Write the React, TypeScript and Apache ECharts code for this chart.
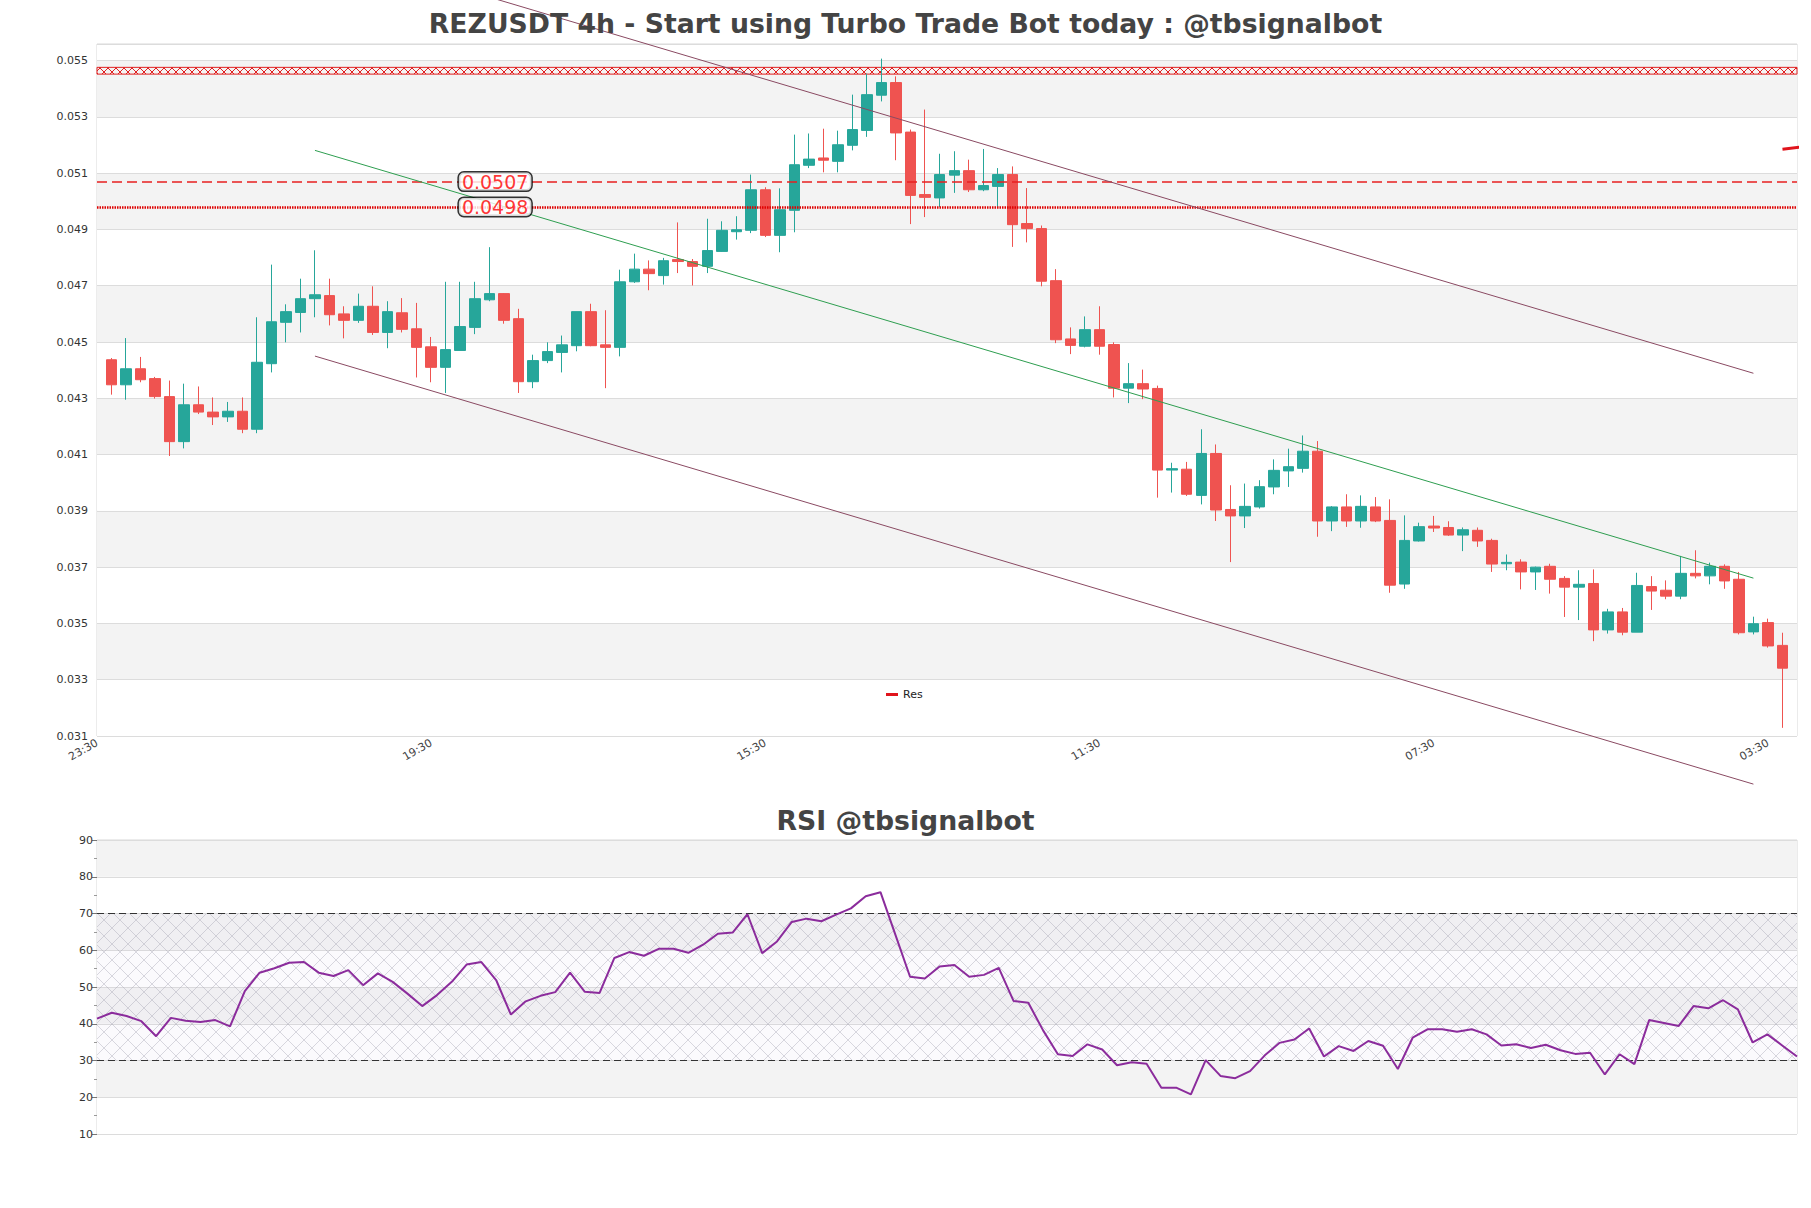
import React, { useEffect, useRef } from "react";
import * as echarts from "echarts";

const titleMain = "REZUSDT 4h - Start using Turbo Trade Bot today : @tbsignalbot";
const titleRsi = "RSI @tbsignalbot";
const tickLabels = ["23:30", "19:30", "15:30", "11:30", "07:30", "03:30"];
const tickEvery = 23;

const opens = [
  0.04437, 0.04348, 0.04405, 0.0437, 0.04306, 0.04146, 0.04277, 0.04251, 0.04234, 0.04254,
  0.0419, 0.04423, 0.0457, 0.04605, 0.04654, 0.04665, 0.046, 0.04577, 0.04627, 0.04534,
  0.04604, 0.04547, 0.04483, 0.0441, 0.0447, 0.04552, 0.0465, 0.04672, 0.04583, 0.04359,
  0.04434, 0.04463, 0.04487, 0.04608, 0.0449, 0.04481, 0.04714, 0.04759, 0.04736, 0.04793,
  0.04786, 0.04769, 0.04822, 0.04892, 0.04897, 0.05041, 0.04879, 0.04968, 0.05128, 0.05154,
  0.05142, 0.05199, 0.05252, 0.05377, 0.05422, 0.05246, 0.05024, 0.05012, 0.05093, 0.05109,
  0.05041, 0.05053, 0.05095, 0.04921, 0.04903, 0.04718, 0.04511, 0.04485, 0.04544, 0.04491,
  0.04336, 0.04352, 0.04335, 0.04045, 0.04048, 0.03955, 0.04104, 0.03905, 0.03882, 0.03914,
  0.03985, 0.04042, 0.04051, 0.04112, 0.03864, 0.03914, 0.03864, 0.03914, 0.03866, 0.0364,
  0.03793, 0.03846, 0.03841, 0.03814, 0.03831, 0.03795, 0.03712, 0.03718, 0.03683, 0.03703,
  0.0366, 0.03629, 0.03642, 0.03477, 0.03541, 0.03469, 0.03631, 0.03618, 0.03597, 0.03678,
  0.03669, 0.03703, 0.03657, 0.0347, 0.03503, 0.03422,
];
const closes = [
  0.04348, 0.04405, 0.04366, 0.04306, 0.04146, 0.04277, 0.04251, 0.04234, 0.04254, 0.0419,
  0.04428, 0.04572, 0.04608, 0.04654, 0.04668, 0.04597, 0.04577, 0.04627, 0.04534, 0.04608,
  0.04545, 0.04481, 0.0441, 0.04473, 0.04555, 0.04654, 0.04672, 0.04577, 0.04359, 0.04434,
  0.04466, 0.0449, 0.04608, 0.04487, 0.04481, 0.04714, 0.04759, 0.04743, 0.04789, 0.04786,
  0.04769, 0.04825, 0.04897, 0.04899, 0.05041, 0.04879, 0.0497, 0.0513, 0.0515, 0.05146,
  0.05201, 0.05255, 0.05379, 0.05422, 0.05243, 0.05021, 0.05014, 0.05095, 0.05109, 0.05041,
  0.05056, 0.05095, 0.04917, 0.04903, 0.04716, 0.04508, 0.04488, 0.04544, 0.04485, 0.04336,
  0.04352, 0.04333, 0.04045, 0.0405, 0.03959, 0.04104, 0.03903, 0.03882, 0.03916, 0.03986,
  0.04044, 0.04057, 0.04112, 0.03864, 0.03914, 0.03864, 0.03916, 0.03864, 0.03636, 0.03795,
  0.03844, 0.03839, 0.03814, 0.03833, 0.03793, 0.03711, 0.03717, 0.03683, 0.037, 0.03657,
  0.03629, 0.03639, 0.03477, 0.03541, 0.03469, 0.03635, 0.03615, 0.03597, 0.03678, 0.03669,
  0.03703, 0.03651, 0.03467, 0.03499, 0.0342, 0.03341,
];
const highs = [
  0.04443, 0.04514, 0.04447, 0.04376, 0.04363, 0.04352, 0.04342, 0.04303, 0.04287, 0.04303,
  0.04588, 0.04775, 0.04634, 0.04725, 0.04826, 0.04725, 0.04627, 0.04672, 0.04698, 0.04645,
  0.04656, 0.04639, 0.04518, 0.04714, 0.04714, 0.04714, 0.04837, 0.04674, 0.04618, 0.04455,
  0.04499, 0.04523, 0.04608, 0.04636, 0.04613, 0.04757, 0.04814, 0.0479, 0.04799, 0.04925,
  0.04795, 0.04938, 0.04929, 0.04947, 0.05095, 0.0505, 0.05046, 0.05237, 0.05241, 0.05258,
  0.05251, 0.05379, 0.05454, 0.05507, 0.05444, 0.05255, 0.05326, 0.05169, 0.05178, 0.05148,
  0.05186, 0.05118, 0.05124, 0.05047, 0.04914, 0.04759, 0.04552, 0.04591, 0.04627, 0.04499,
  0.04425, 0.04402, 0.04345, 0.04071, 0.04074, 0.0419, 0.04136, 0.03991, 0.03997, 0.04009,
  0.04083, 0.04121, 0.04168, 0.04148, 0.03917, 0.03959, 0.03955, 0.03949, 0.03941, 0.03884,
  0.03858, 0.03882, 0.03863, 0.03841, 0.03841, 0.03801, 0.03745, 0.03728, 0.03702, 0.03712,
  0.03668, 0.03689, 0.03692, 0.03552, 0.03555, 0.0368, 0.03668, 0.03653, 0.0374, 0.0376,
  0.03716, 0.0371, 0.03683, 0.03524, 0.03517, 0.03467,
];
const lows = [
  0.04313, 0.04295, 0.04357, 0.04299, 0.04095, 0.04122, 0.04244, 0.04205, 0.04216, 0.04176,
  0.04176, 0.04392, 0.04499, 0.04534, 0.04588, 0.04559, 0.04513, 0.04568, 0.04525, 0.04478,
  0.04534, 0.04374, 0.04357, 0.04319, 0.0447, 0.04528, 0.04645, 0.04565, 0.04319, 0.04336,
  0.04425, 0.04392, 0.04467, 0.04485, 0.04336, 0.04449, 0.0471, 0.04684, 0.04704, 0.04745,
  0.04701, 0.04745, 0.04864, 0.04864, 0.04887, 0.04873, 0.04819, 0.0489, 0.05118, 0.05103,
  0.05103, 0.05181, 0.05229, 0.05355, 0.05146, 0.04919, 0.04944, 0.0498, 0.0503, 0.05033,
  0.05036, 0.0498, 0.04838, 0.04854, 0.04698, 0.04496, 0.04457, 0.04481, 0.04455, 0.04303,
  0.04283, 0.04297, 0.03947, 0.03965, 0.03953, 0.03923, 0.03864, 0.03718, 0.03839, 0.03908,
  0.03959, 0.03985, 0.04036, 0.03808, 0.03828, 0.03843, 0.0384, 0.0386, 0.03609, 0.03623,
  0.03791, 0.03825, 0.03811, 0.03757, 0.03772, 0.03683, 0.03689, 0.03621, 0.03619, 0.03606,
  0.03523, 0.03512, 0.03437, 0.03464, 0.03458, 0.03469, 0.03548, 0.03586, 0.03586, 0.0366,
  0.03639, 0.03623, 0.03461, 0.03461, 0.03414, 0.03129,
];

const rsiValues = [
  41.4, 43.0, 42.1, 40.7, 36.6, 41.6, 40.8, 40.5, 41.0, 39.3,
  48.9, 53.9, 55.1, 56.6, 56.8, 53.9, 53.0, 54.6, 50.5, 53.7,
  51.4, 48.2, 44.8, 47.8, 51.4, 56.1, 56.8, 51.9, 42.5, 46.1,
  47.6, 48.6, 53.9, 48.7, 48.4, 57.9, 59.5, 58.5, 60.4, 60.4,
  59.3, 61.5, 64.5, 64.8, 69.8, 59.2, 62.4, 67.7, 68.6, 67.9,
  69.7, 71.4, 74.7, 75.8, 64.3, 52.8, 52.3, 55.6, 56.0, 52.8,
  53.3, 55.2, 46.2, 45.7, 38.2, 31.7, 31.2, 34.4, 33.0, 28.7,
  29.5, 29.1, 22.6, 22.6, 20.8, 30.1, 25.8, 25.2, 27.1, 31.4,
  34.8, 35.7, 38.7, 31.1, 33.9, 32.6, 35.3, 34.0, 27.7, 36.2,
  38.5, 38.5, 37.8, 38.5, 37.1, 34.1, 34.4, 33.4, 34.3, 32.8,
  31.8, 32.1, 26.2, 31.7, 29.0, 41.0, 40.2, 39.4, 44.8, 44.2,
  46.4, 43.9, 34.9, 37.1, 34.1, 31.1,
];

const channelUpper = [[14, 0.0591], [113, 0.04389]];
const channelLower = [[14, 0.0445], [113, 0.02929]];
const trendGreen = [[14, 0.05181], [113, 0.03661]];
const resSegment = [[115, 0.05185], [116.8, 0.05196]];
const levelDashed = 0.0507;
const levelDotted = 0.0498;
const levelLabelAt = 26.4;
const zoneLow = 0.05452;
const zoneHigh = 0.05476;
const rsiHigh = 70;
const rsiLow = 30;

const FONT = "DejaVu Sans";

function hatch(stroke: string, size: number, lw: number, bg?: string) {
  const c = document.createElement("canvas");
  c.width = size;
  c.height = size;
  const ctx = c.getContext("2d")!;
  if (bg) {
    ctx.fillStyle = bg;
    ctx.fillRect(0, 0, size, size);
  }
  ctx.strokeStyle = stroke;
  ctx.lineWidth = lw;
  ctx.beginPath();
  ctx.moveTo(0, 0);
  ctx.lineTo(size, size);
  ctx.moveTo(size, 0);
  ctx.lineTo(0, size);
  ctx.stroke();
  return { image: c, repeat: "repeat", imageWidth: size, imageHeight: size } as any;
}

export default function App() {
  const ref = useRef<HTMLDivElement>(null);
  useEffect(() => {
    if (!ref.current) return;
    const chart = echarts.init(ref.current, undefined, { renderer: "svg" });
    const candles = opens.map((o, i) => [i, o, closes[i], lows[i], highs[i]]);
    const rsiData = rsiValues.map((v, i) => [i, v]);
    const grey = "#f3f3f3";
    const titleStyle = { fontSize: 26.7, fontWeight: "bold" as const, color: "#444", fontFamily: FONT };

    chart.setOption({
      animation: false,
      backgroundColor: "#fff",
      textStyle: { fontFamily: FONT },
      title: [
        { text: titleMain, left: "center", top: 5, textStyle: titleStyle },
        { text: titleRsi, left: "center", top: 802, textStyle: titleStyle },
      ],
      legend: {
        data: ["Res"],
        left: 881,
        top: 684,
        icon: "rect",
        itemWidth: 12,
        itemHeight: 3,
        textStyle: { fontSize: 11, color: "#222", fontFamily: FONT },
      },
      grid: [
        { left: 97, top: 44, width: 1700, height: 692, show: true, borderColor: "#d8d8d8", borderWidth: 1, backgroundColor: "#fff" },
        { left: 97, top: 840, width: 1700, height: 294, show: true, borderColor: "#d8d8d8", borderWidth: 1, backgroundColor: "#fff" },
      ],
      xAxis: [
        {
          gridIndex: 0,
          type: "value",
          min: -1,
          max: 116,
          interval: tickEvery,
          axisLine: { show: false },
          axisTick: { show: false },
          splitLine: { show: false },
          axisLabel: {
            rotate: 30,
            fontSize: 11,
            color: "#444",
            margin: 6,
            formatter: (v: number) => {
              const k = Math.round((v + 1) / tickEvery);
              return Math.abs(v - (k * tickEvery - 1)) < 1e-6 && k >= 0 && k < tickLabels.length ? tickLabels[k] : "";
            },
          },
        },
        {
          gridIndex: 1,
          type: "value",
          min: 0,
          max: rsiValues.length - 1,
          axisLine: { show: false },
          axisTick: { show: false },
          splitLine: { show: false },
          axisLabel: { show: false },
        },
      ],
      yAxis: [
        {
          gridIndex: 0,
          type: "value",
          min: 0.031,
          max: 0.05559,
          interval: 0.002,
          axisLine: { show: false },
          axisTick: { show: false },
          axisLabel: {
            fontSize: 11,
            color: "#333",
            margin: 9,
            showMaxLabel: false,
            formatter: (v: number) => v.toFixed(3),
          },
          splitLine: { lineStyle: { color: "#dcdcdc", width: 1 } },
          splitArea: { show: true, areaStyle: { color: ["#ffffff", grey] } },
        },
        {
          gridIndex: 1,
          type: "value",
          min: 10,
          max: 90,
          interval: 10,
          axisLine: { show: false },
          axisTick: { show: true, length: 5, lineStyle: { color: "#777" } },
          minorTick: { show: true, splitNumber: 2, length: 3, lineStyle: { color: "#999" } },
          axisLabel: { fontSize: 11, color: "#333", margin: 4 },
          splitLine: { lineStyle: { color: "#dcdcdc", width: 1 } },
          splitArea: { show: true, areaStyle: { color: ["#ffffff", grey] } },
        },
      ],
      series: [
        {
          type: "candlestick",
          name: "Price",
          xAxisIndex: 0,
          yAxisIndex: 0,
          data: candles,
          barWidth: 11,
          itemStyle: {
            color: "#26a69a",
            color0: "#ef5350",
            borderColor: "#26a69a",
            borderColor0: "#ef5350",
            borderWidth: 1,
          },
        },
        {
          type: "line",
          name: "Channel Top",
          xAxisIndex: 0,
          yAxisIndex: 0,
          data: channelUpper,
          clip: false,
          symbol: "none",
          lineStyle: { color: "#8a4a62", width: 1 },
          z: 5,
          markArea: {
            silent: true,
            itemStyle: { color: hatch("#e02020", 8, 1), borderColor: "#e02020", borderWidth: 1 },
            data: [[{ yAxis: zoneLow }, { yAxis: zoneHigh }]],
          },
        },
        {
          type: "line",
          name: "Channel Bottom",
          xAxisIndex: 0,
          yAxisIndex: 0,
          data: channelLower,
          clip: false,
          symbol: "none",
          lineStyle: { color: "#8a4a62", width: 1 },
          z: 5,
        },
        {
          type: "line",
          name: "Trend",
          xAxisIndex: 0,
          yAxisIndex: 0,
          data: trendGreen,
          clip: false,
          symbol: "none",
          lineStyle: { color: "#2e9e50", width: 1 },
          z: 5,
          markLine: {
            silent: true,
            symbol: "none",
            precision: 6,
            label: { show: false },
            data: [
              { yAxis: levelDashed, lineStyle: { color: "#e82020", width: 1.5, type: [10, 5] } },
              { yAxis: levelDotted, lineStyle: { color: "#e00000", width: 2.5, type: [1.5, 1] } },
            ],
          },
        },
        {
          type: "line",
          name: "Res",
          xAxisIndex: 0,
          yAxisIndex: 0,
          data: resSegment,
          clip: false,
          symbol: "none",
          color: "#e0141c",
          lineStyle: { color: "#e0141c", width: 3 },
          z: 6,
        },
        {
          type: "scatter",
          name: "Levels",
          xAxisIndex: 0,
          yAxisIndex: 0,
          data: [
            [levelLabelAt, levelDashed],
            [levelLabelAt, levelDotted],
          ],
          symbolSize: 1,
          itemStyle: { color: "rgba(0,0,0,0)" },
          z: 10,
          label: {
            show: true,
            position: "inside",
            formatter: (p: any) => p.value[1].toFixed(4),
            fontSize: 19,
            color: "#ff0000",
            fontFamily: FONT,
            backgroundColor: "#fff",
            borderColor: "#000",
            borderWidth: 1.5,
            borderRadius: 5,
            padding: [0, 3, -1, 3],
          },
        },
        {
          type: "line",
          name: "RSI",
          xAxisIndex: 1,
          yAxisIndex: 1,
          data: rsiData,
          symbol: "none",
          lineStyle: { color: "#8b2c9c", width: 2 },
          z: 5,
          markArea: {
            silent: true,
            itemStyle: { color: hatch("rgba(160,160,175,0.4)", 16, 1, "rgba(205,190,225,0.07)") },
            data: [[{ yAxis: rsiLow }, { yAxis: rsiHigh }]],
          },
          markLine: {
            silent: true,
            symbol: "none",
            precision: 6,
            label: { show: false },
            lineStyle: { color: "#333", width: 1.2, type: [7, 4] },
            data: [{ yAxis: rsiHigh }, { yAxis: rsiLow }],
          },
        },
      ],
    });
    return () => chart.dispose();
  }, []);
  return <div ref={ref} style={{ position: "fixed", left: 0, top: 0, width: 1811, height: 1208 }} />;
}
